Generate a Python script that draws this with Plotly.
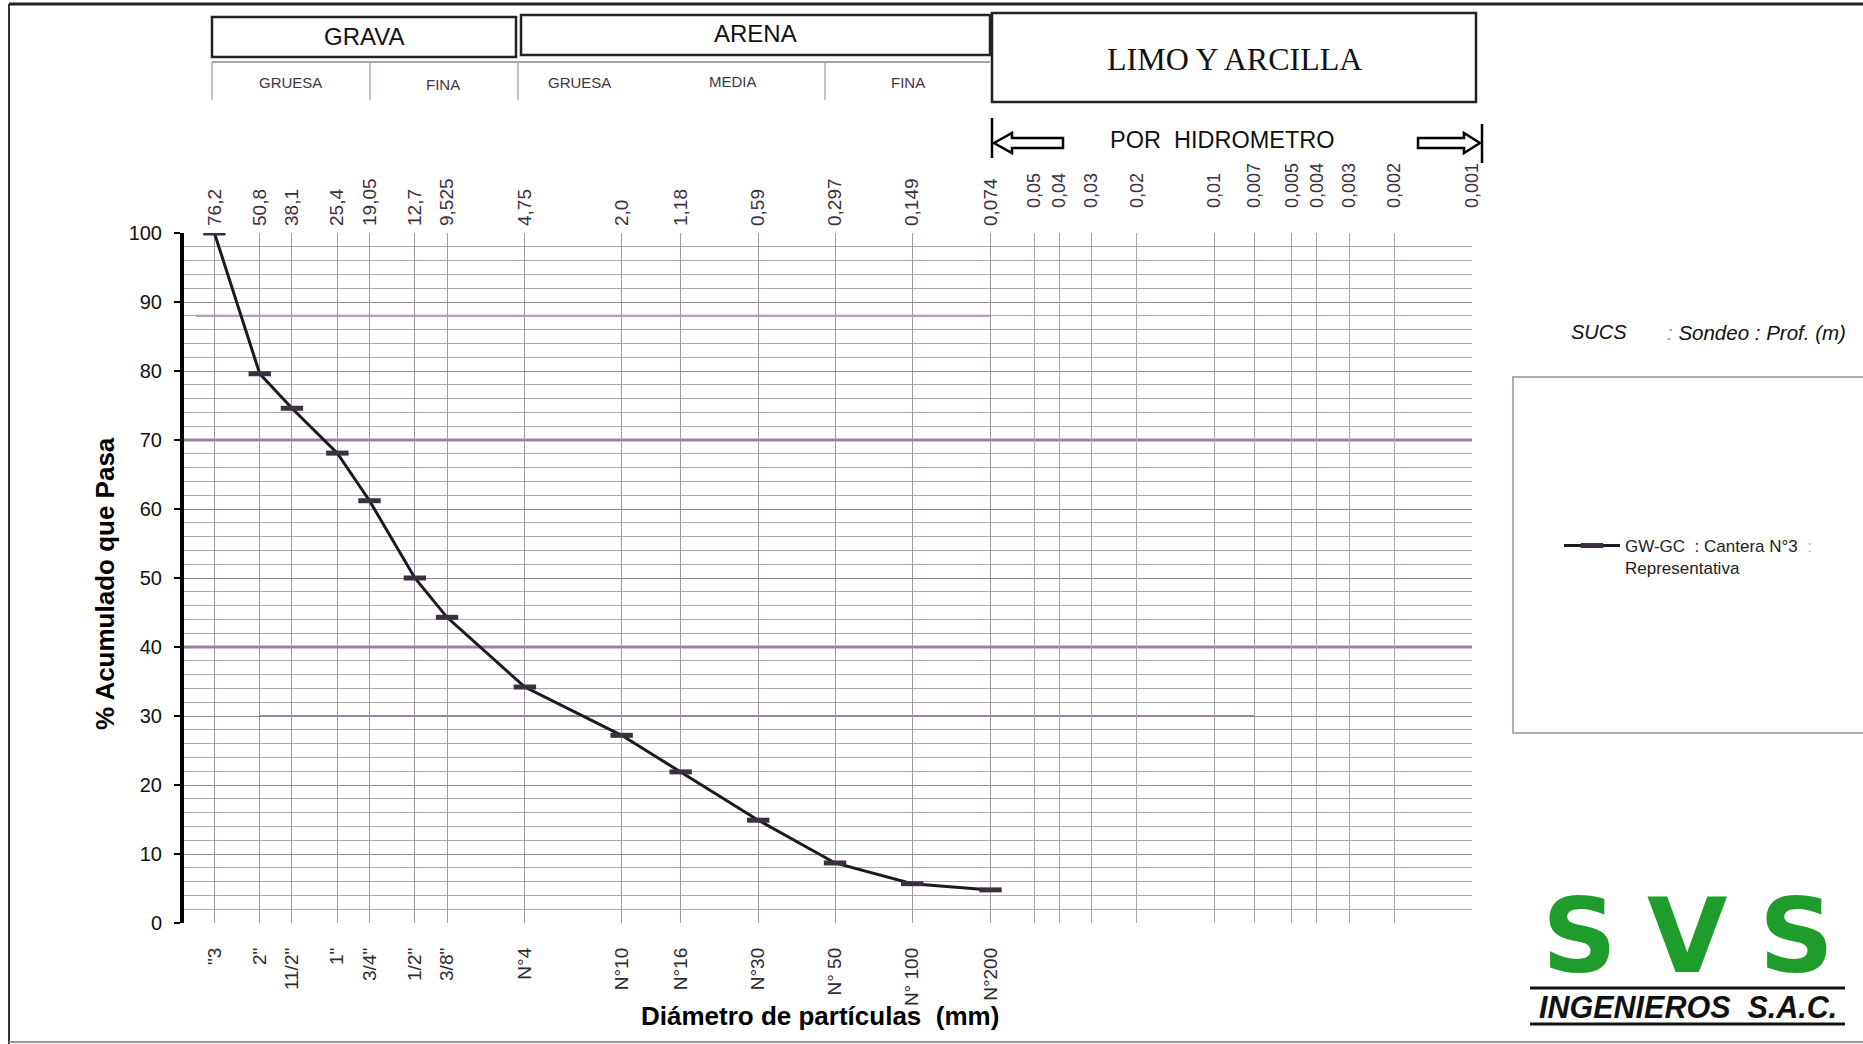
import plotly.graph_objects as go

# ---- Granulometric data -------------------------------------------------
tamiz_nombre = ['"3', '2"', '11/2"', '1"', '3/4"', '1/2"', '3/8"',
                'N°4', 'N°10', 'N°16', 'N°30', 'N° 50', 'N° 100', 'N°200']
abertura_mm = [76.2, 50.8, 38.1, 25.4, 19.05, 12.7, 9.525,
               4.75, 2.0, 1.18, 0.59, 0.297, 0.149, 0.074]
abertura_txt = ['76,2', '50,8', '38,1', '25,4', '19,05', '12,7', '9,525',
                '4,75', '2,0', '1,18', '0,59', '0,297', '0,149', '0,074']
porcentaje_pasa = [100.0, 79.6, 74.6, 68.1, 61.2, 50.0, 44.3,
                   34.2, 27.2, 21.9, 14.9, 8.7, 5.7, 4.8]

hidrometro_mm = [0.05, 0.04, 0.03, 0.02, 0.01, 0.007, 0.005, 0.004,
                 0.003, 0.002, 0.001]
hidrometro_txt = ['0,05', '0,04', '0,03', '0,02', '0,01', '0,007', '0,005',
                  '0,004', '0,003', '0,002', '0,001']

pct_ticks = list(range(0, 101, 10))

serie_nombre = ('GW-GC\u00a0\u00a0: Cantera N°3\u00a0\u00a0'
                '<span style="color:#bbbbbb">:</span><br>Representativa')

# ---- Page geometry -------------------------------------------------------
W, H = 1863, 1044
L, R, T, B = 184, 1472, 233, 923   # plot area in pixels


def px(x):
    return (x - L) / (R - L)


def py(y):
    return (B - y) / (B - T)


FONT = 'Liberation Sans, Arial, sans-serif'
SERIF = 'Liberation Serif, Times New Roman, serif'
XRANGE = [2, -3]   # log10 range: 100 mm on the left, 0.001 mm on the right

fig = go.Figure()

fig.add_trace(go.Scatter(
    x=abertura_mm, y=porcentaje_pasa,
    mode='lines+markers',
    name=serie_nombre,
    line=dict(color='#1d1a1f', width=3),
    marker=dict(symbol='line-ew', size=16,
                line=dict(width=5, color='#3b3040')),
    showlegend=True,
))
# empty traces so the two top axes are laid out
fig.add_trace(go.Scatter(x=[], y=[], xaxis='x2', yaxis='y', showlegend=False))
fig.add_trace(go.Scatter(x=[], y=[], xaxis='x3', yaxis='y', showlegend=False))

shapes = []
annotations = []


def line_px(x0, y0, x1, y1, color='black', width=2):
    shapes.append(dict(type='line', xref='paper', yref='paper',
                       x0=px(x0), y0=py(y0), x1=px(x1), y1=py(y1),
                       line=dict(color=color, width=width)))


def rect_px(x0, y0, x1, y1, color='#222', width=2.5):
    shapes.append(dict(type='rect', xref='paper', yref='paper',
                       x0=px(x0), y0=py(y0), x1=px(x1), y1=py(y1),
                       line=dict(color=color, width=width),
                       fillcolor='rgba(0,0,0,0)'))


def text_px(x, y, text, size, color='#111', family=FONT, angle=0,
            xanchor='center'):
    annotations.append(dict(xref='paper', yref='paper', x=px(x), y=py(y),
                            text=text, showarrow=False, textangle=angle,
                            xanchor=xanchor, yanchor='middle',
                            font=dict(family=family, size=size, color=color)))


def path_px(points, width=2.5, fill='white'):
    d = 'M ' + ' L '.join(f'{px(a):.5f},{py(b):.5f}' for a, b in points) + ' Z'
    shapes.append(dict(type='path', xref='paper', yref='paper', path=d,
                       line=dict(color='black', width=width), fillcolor=fill))


# page frame
line_px(9, 4, 1863, 4, '#222', 3)
line_px(9, 4, 9, 1044, '#333', 2)
line_px(9, 1042, 1863, 1042, '#999', 2)

# soil classification header
rect_px(212, 17, 516, 57)
rect_px(521, 15, 990, 55)
rect_px(992, 13, 1476, 102)
line_px(212, 62, 990, 62, '#a89fab', 2)
for xs in (212, 370, 518, 825):
    line_px(xs, 62, xs, 100, '#b4abb7', 1.5)
text_px(364, 36, 'GRAVA', 24)
text_px(755, 33, 'ARENA', 24)
text_px(1234, 59, 'LIMO Y ARCILLA', 32, family=SERIF)
sub = '#3f3446'
text_px(290, 83, 'GRUESA', 15, sub)
text_px(443, 84, 'FINA', 15, sub)
text_px(579, 83, 'GRUESA', 15, sub)
text_px(733, 81, 'MEDIA', 15, sub)
text_px(908, 82, 'FINA', 15, sub)

# hydrometer range arrows
line_px(992, 118, 992, 158, 'black', 2.5)
line_px(1482, 124, 1482, 163, 'black', 2.5)
path_px([(994, 143), (1012, 133), (1012, 138), (1063, 138),
         (1063, 148), (1012, 148), (1012, 153)])
path_px([(1480, 143), (1464, 133), (1464, 138), (1418, 138),
         (1418, 148), (1464, 148), (1464, 153)])
text_px(1222, 140, 'POR\u00a0\u00a0HIDROMETRO', 23.5)

# emphasised reference lines of the chart sheet
purple = '#a57ea8'
for yv in (70, 40):
    shapes.append(dict(type='line', xref='paper', yref='y', x0=0, x1=1,
                       y0=yv, y1=yv, line=dict(color=purple, width=3),
                       layer='below'))
shapes.append(dict(type='line', xref='x', yref='y', x0=90, x1=0.074,
                   y0=88, y1=88, line=dict(color=purple, width=2),
                   layer='below'))
shapes.append(dict(type='line', xref='x', yref='y', x0=50.8, x1=0.007,
                   y0=30, y1=30, line=dict(color=purple, width=2),
                   layer='below'))

# axis titles
text_px(105, 584, '<b>% Acumulado que Pasa</b>', 26, 'black', angle=-90)
text_px(820, 1016, '<b>Diámetro de partículas\u00a0\u00a0(mm)</b>', 26, 'black')

# legend header and box
text_px(1599, 332, '<i>SUCS</i>', 20, '#111')
text_px(1665, 332, '<i><span style="color:#999">:</span> Sondeo : Prof. (m)</i>',
        20.5, '#111', xanchor='left')
rect_px(1513, 377, 1875, 733, '#b3a8b6', 2)

# company logo
green = '#1f9d2c'
logo_font = 'DejaVu Sans, sans-serif'
text_px(1579, 936, '<b>S</b>', 104, green, family=logo_font)
text_px(1687, 936, '<b>V</b>', 104, green, family=logo_font)
text_px(1796, 936, '<b>S</b>', 104, green, family=logo_font)
line_px(1530, 988, 1845, 988, '#111', 3)
line_px(1530, 1024, 1845, 1024, '#111', 3)
text_px(1688, 1007, '<b><i>INGENIEROS\u00a0\u00a0S.A.C.</i></b>', 30.5, '#111')

fig.update_layout(
    width=W, height=H,
    margin=dict(l=L, r=W - R, t=T, b=H - B, pad=0),
    paper_bgcolor='white', plot_bgcolor='white',
    font=dict(family=FONT, color='#111'),
    shapes=shapes, annotations=annotations,
    showlegend=True,
    legend=dict(x=px(1559), y=py(528), xanchor='left', yanchor='top',
                bgcolor='rgba(0,0,0,0)', borderwidth=0, valign='top',
                font=dict(family=FONT, size=17, color='#222'),
                itemwidth=56),
    xaxis=dict(type='log', range=XRANGE, tickmode='array',
               tickvals=abertura_mm, ticktext=tamiz_nombre, tickangle=-90,
               ticks='', ticklabelstandoff=20,
               tickfont=dict(size=19, color='#2e2a30'),
               showgrid=True, gridcolor='#a597a8', gridwidth=1,
               showline=False, zeroline=False, automargin=False),
    xaxis2=dict(type='log', range=XRANGE, overlaying='x', side='top',
                anchor='y', tickmode='array', tickvals=abertura_mm,
                ticktext=abertura_txt, tickangle=-90, ticks='',
                ticklabelstandoff=6,
                tickfont=dict(size=19, color='#3b3040'),
                showgrid=False, showline=False, zeroline=False,
                automargin=False),
    xaxis3=dict(type='log', range=XRANGE, overlaying='x', side='top',
                anchor='y', tickmode='array', tickvals=hidrometro_mm,
                ticktext=hidrometro_txt, tickangle=-90, ticks='',
                ticklabelstandoff=24,
                tickfont=dict(size=18, color='#3b3040'),
                showgrid=True, gridcolor='#aaa2ad', gridwidth=1,
                showline=False, zeroline=False, automargin=False),
    yaxis=dict(range=[0, 100], tickmode='array', tickvals=pct_ticks,
               ticks='outside', ticklen=6, tickwidth=2, tickcolor='black',
               showline=True, linewidth=4, linecolor='black',
               showgrid=True, gridcolor='#8f8794', gridwidth=1,
               minor=dict(dtick=2, showgrid=True, gridcolor='#aea6b2',
                          gridwidth=1),
               zeroline=False, tickfont=dict(size=20, color='#111'),
               ticklabelstandoff=8, automargin=False),
)

fig.write_html('out.html')
